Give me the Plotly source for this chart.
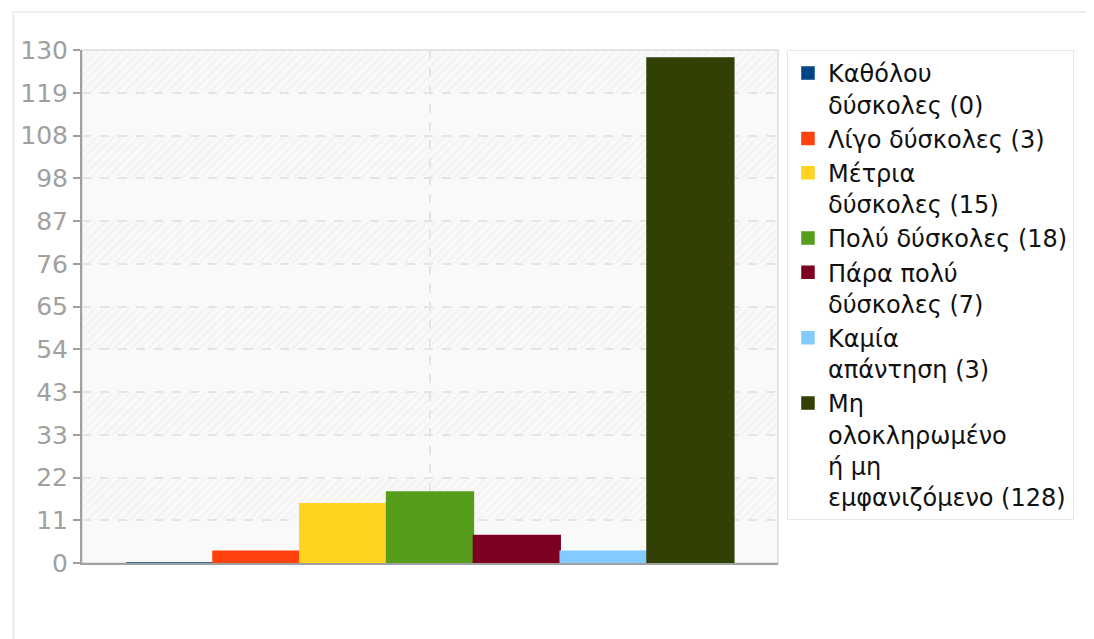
import plotly.graph_objects as go

# ---- data ----
categories = [""]
series_names = [
    "Καθόλου<br>δύσκολες (0)",
    "Λίγο δύσκολες (3)",
    "Μέτρια<br>δύσκολες (15)",
    "Πολύ δύσκολες (18)",
    "Πάρα πολύ<br>δύσκολες (7)",
    "Καμία<br>απάντηση (3)",
    "Μη<br>ολοκληρωμένο<br>ή μη<br>εμφανιζόμενο (128)",
]
series_values = [0, 3, 15, 18, 7, 3, 128]
series_colors = ["#004586", "#ff420e", "#ffd320", "#579d1c", "#7e0021", "#83caff", "#314004"]
tick_labels = ["0", "11", "22", "33", "43", "54", "65", "76", "87", "98", "108", "119", "130"]
y_max = 130

n_int = len(tick_labels) - 1
tick_vals = [i * y_max / n_int for i in range(n_int + 1)]

fig = go.Figure()

# background alternating hatched bands (decoration on hidden numeric x axis)
band_base = [tick_vals[i] for i in range(n_int) if i % 2 == 1]
band_h = [tick_vals[i + 1] - tick_vals[i] for i in range(n_int) if i % 2 == 1]
fig.add_trace(go.Bar(
    x=[0.5] * len(band_base), y=band_h, base=band_base, width=1,
    xaxis="x", yaxis="y",
    marker=dict(color="rgba(0,0,0,0)", line=dict(width=0),
                pattern=dict(shape="/", fgcolor="#ebebeb", bgcolor="rgba(0,0,0,0)",
                             size=6, solidity=0.3)),
    showlegend=False, hoverinfo="skip",
))

for name, val, col in zip(series_names, series_values, series_colors):
    fig.add_trace(go.Bar(
        x=categories, y=[val], name=name, xaxis="x2", yaxis="y",
        marker=dict(color=col, line=dict(color=col, width=1.5)),
    ))

fig.update_layout(
    width=1094, height=639,
    margin=dict(l=71, r=324, t=42, b=84),
    paper_bgcolor="white", plot_bgcolor="#f9f9f9",
    barmode="group", bargap=0.127, bargroupgap=0,
    font=dict(family="DejaVu Sans", size=25, color="#222"),
    xaxis=dict(range=[0, 1], visible=False, showgrid=False, fixedrange=True),
    xaxis2=dict(overlaying="x", type="category", showgrid=True, gridcolor="#e4e4e4",
                griddash="dash", gridwidth=1.5, showticklabels=False, ticks="",
                showline=True, linecolor="#a0a0a0", linewidth=2, side="bottom",
                zeroline=False),
    yaxis=dict(range=[0, y_max], tickvals=tick_vals, ticktext=tick_labels,
               showgrid=True, gridcolor="#e4e4e4", griddash="dash", gridwidth=1.5,
               showline=True, linecolor="#a0a0a0", linewidth=2,
               ticks="outside", ticklen=7, tickcolor="#a0a0a0", tickwidth=2,
               tickfont=dict(size=25, color="#a0a0a0"), zeroline=False),
    legend=dict(x=1.0129, y=1.0, xanchor="left", yanchor="top", valign="top",
                bgcolor="white", bordercolor="#e6e6e6", borderwidth=1,
                font=dict(size=24, color="#111"), traceorder="normal",
                itemclick=False, itemdoubleclick=False),
    showlegend=True,
    shapes=[
        dict(type="rect", xref="x domain", yref="y domain", x0=0, x1=1, y0=0, y1=1,
             line=dict(color="#dcdcdc", width=1.5), layer="below"),
        dict(type="rect", xref="paper", yref="paper", x0=-0.0987, x1=1.5, y0=-0.3, y1=1.074,
             line=dict(color="#e8e8e8", width=1.5), layer="below"),
    ],
)

fig.write_html("out.html")
